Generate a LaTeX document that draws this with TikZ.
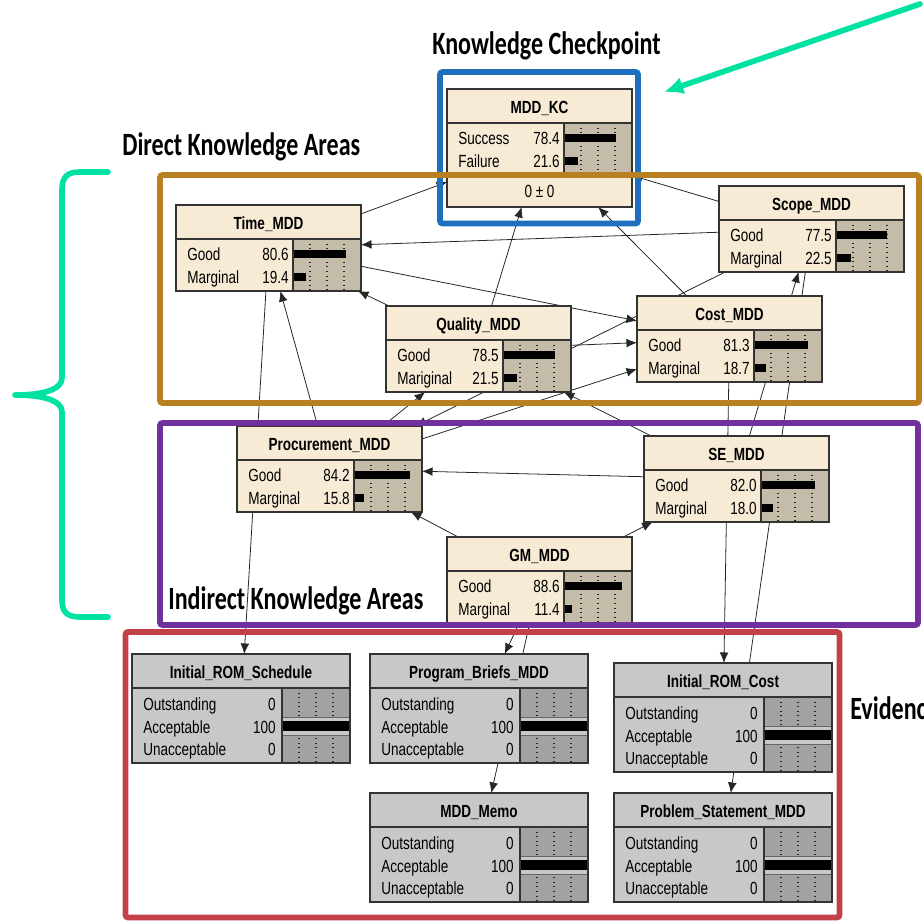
\documentclass[tikz,border=0pt]{standalone}
\usepackage{fontspec}
\usepackage{tikz}
\usetikzlibrary{arrows.meta, backgrounds}
\newfontfamily\neticafont[FakeStretch=0.77]{Liberation Sans}
\newfontfamily\areafont[FakeStretch=0.74]{Carlito}

\definecolor{kabeige}{RGB}{247,235,213}
\definecolor{kabar}{RGB}{196,188,168}
\definecolor{evgray}{RGB}{200,200,200}
\definecolor{evbar}{RGB}{162,162,162}
\definecolor{kcblue}{RGB}{30,112,190}
\definecolor{dkabrown}{RGB}{184,128,32}
\definecolor{ikapurple}{RGB}{112,48,160}
\definecolor{evred}{RGB}{196,64,72}
\definecolor{pointgreen}{RGB}{0,226,162}

% knowledge area node: [height]{name}{left}{top}{title}{state}{value}{state}{value}
\newcommand{\kanode}[9][86]{%
  \begin{scope}[shift={(#3,#4)}]
    \node[nodebox, fill=kabeige, minimum width=3.7cm, minimum height=0.02cm*#1] (#2) at (92.5,#1/2) {};
    \fill[kabar] (117,34) rectangle (185,86);
    \draw[barrule] (134,34) -- (134,86) (151,34) -- (151,86) (168,34) -- (168,86);
    \fill (117,45) rectangle +(0.66*#7,8);
    \fill (117,68) rectangle +(0.66*#9,8);
    \draw[nodeline] (0,34) -- (185,34) (117,34) -- (117,86) (#2.north west) rectangle (#2.south east);
    \node[titletxt] at (92.5,24) {#5};
    \node[statetxt] at (11,55) {#6};
    \node[valtxt] at (113,55) {#7};
    \node[statetxt] at (11,78) {#8};
    \node[valtxt] at (113,78) {#9};
  \end{scope}}

% evidence node: {name}{left}{top}{title}
\newcommand{\evnode}[4]{%
  \begin{scope}[shift={(#2,#3)}]
    \node[nodebox, fill=evgray, minimum width=4.36cm, minimum height=2.18cm] (#1) at (109,54.5) {};
    \fill[evbar] (150,34) rectangle (218,109);
    \draw[barrule] (167,34) -- (167,109) (184,34) -- (184,109) (201,34) -- (201,109);
    \draw[band] (150,63) rectangle (218,81);
    \fill (150,66.5) rectangle (217,76.5);
    \draw[nodeline] (0,34) -- (218,34) (150,34) -- (150,109) (#1.north west) rectangle (#1.south east);
    \node[titletxt] at (109,24) {#4};
    \node[statetxt] at (11,56) {Outstanding};
    \node[valtxt] at (144,56) {0};
    \node[statetxt] at (11,79) {Acceptable};
    \node[valtxt] at (144,79) {100};
    \node[statetxt] at (11,101) {Unacceptable};
    \node[valtxt] at (144,101) {0};
  \end{scope}}

\begin{document}
\begin{tikzpicture}[
    x=0.02cm, y=-0.02cm,
    nodebox/.style={rectangle, draw=black!80, line width=0.6pt, inner sep=0pt, outer sep=0pt},
    nodeline/.style={draw=black!80, line width=0.6pt},
    barrule/.style={dotted, line width=0.6pt, black!85},
    band/.style={draw=black!60, fill=evgray, line width=0.5pt},
    titletxt/.style={font=\neticafont\bfseries\fontsize{10}{12}\selectfont, inner sep=0pt, anchor=base},
    statetxt/.style={font=\neticafont\fontsize{10}{12}\selectfont, inner sep=0pt, anchor=base west},
    valtxt/.style={font=\neticafont\fontsize{10}{12}\selectfont, inner sep=0pt, anchor=base east},
    areatxt/.style={font=\areafont\bfseries\fontsize{18.5}{22}\selectfont, inner sep=0pt, anchor=base west},
    link/.style={->, >={Latex[length=6pt,width=5pt]}, line width=0.45pt, black!85},
    areaframe/.style={line width=3.3pt, rounded corners=1.5pt},
    cue/.style={line width=3.2pt, pointgreen, line cap=round}
]
\useasboundingbox (0,0) rectangle (924,923);
\clip (0,0) rectangle (924,923);

% Knowledge checkpoint
\kanode[118]{kc}{447}{89}{MDD\_KC}{Success}{78.4}{Failure}{21.6}
\draw[nodeline] (447,175) -- (632,175);
\node[titletxt, font=\neticafont\fontsize{10}{12}\selectfont] (kcmean) at (539.5,197) {0 ± 0};

% Direct knowledge areas
\kanode{time}{176}{205}{Time\_MDD}{Good}{80.6}{Marginal}{19.4}
\kanode{scope}{719}{186}{Scope\_MDD}{Good}{77.5}{Marginal}{22.5}
\kanode{quality}{386}{306}{Quality\_MDD}{Good}{78.5}{Mariginal}{21.5}
\kanode{cost}{637}{296}{Cost\_MDD}{Good}{81.3}{Marginal}{18.7}

% Indirect knowledge areas
\kanode{procure}{237}{426}{Procurement\_MDD}{Good}{84.2}{Marginal}{15.8}
\kanode{se}{644}{436}{SE\_MDD}{Good}{82.0}{Marginal}{18.0}
\kanode{gm}{447}{537}{GM\_MDD}{Good}{88.6}{Marginal}{11.4}

% Evidence
\evnode{irs}{132}{654}{Initial\_ROM\_Schedule}
\evnode{briefs}{370}{654}{Program\_Briefs\_MDD}
\evnode{memo}{370}{793}{MDD\_Memo}
\evnode{irc}{614}{663}{Initial\_ROM\_Cost}
\evnode{problem}{614}{793}{Problem\_Statement\_MDD}

% Links
\begin{scope}[on background layer]
\draw[link] (time) -- (kc);
\draw[link] (scope) -- (kc);
\draw[link] (quality) -- (kc);
\draw[link] (cost) -- (kc);
\draw[link] (scope) -- (time);
\draw[link] (time) -- (cost);
\draw[link] (quality) -- (time);
\draw[link] (quality) -- (cost);
\draw[link] (scope) -- (procure);
\draw[link] (procure) -- (cost);
\draw[link] (procure) -- (quality);
\draw[link] (procure) -- (time);
\draw[link] (se) -- (scope);
\draw[link] (se) -- (quality);
\draw[link] (se) -- (procure);
\draw[link] (gm) -- (procure);
\draw[link] (gm) -- (se);
\draw[link] (time) -- (irs);
\draw[link] (gm) -- (briefs);
\draw[link] (gm) -- (memo);
\draw[link] (cost) -- (irc);
\draw[link] (scope) -- (problem);
\end{scope}

% Area frames
\draw[areaframe, kcblue] (440,72) rectangle (638,223.5);
\draw[areaframe, dkabrown] (160,175) rectangle (919,403);
\draw[areaframe, ikapurple] (160,423) rectangle (918,625);
\draw[areaframe, evred] (125.5,632) rectangle (839.5,917.5);

% Area labels
\node[areatxt] (kclabel) at (432,54) {Knowledge Checkpoint};
\node[areatxt] (dkalabel) at (122,155) {Direct Knowledge Areas};
\node[areatxt] (ikalabel) at (168,609) {Indirect Knowledge Areas};
\node[areatxt] (evlabel) at (850,719) {Evidence};

% Pointer and brace
\coordinate (pointer) at (920,4);
\coordinate (pointertip) at (664,92);
\draw[cue, -{Latex[length=11pt,width=10pt]}] (pointer) -- (pointertip);
\draw[cue, line join=round] (108,172) -- (80,172) .. controls (67,172) and (62,177) .. (62,190)
    -- (62,378) .. controls (62,390) and (42,395) .. (15,395)
    .. controls (42,395) and (62,400) .. (62,412) -- (62,600)
    .. controls (62,612) and (67,617) .. (80,617) -- (108,617);
\end{tikzpicture}
\end{document}
